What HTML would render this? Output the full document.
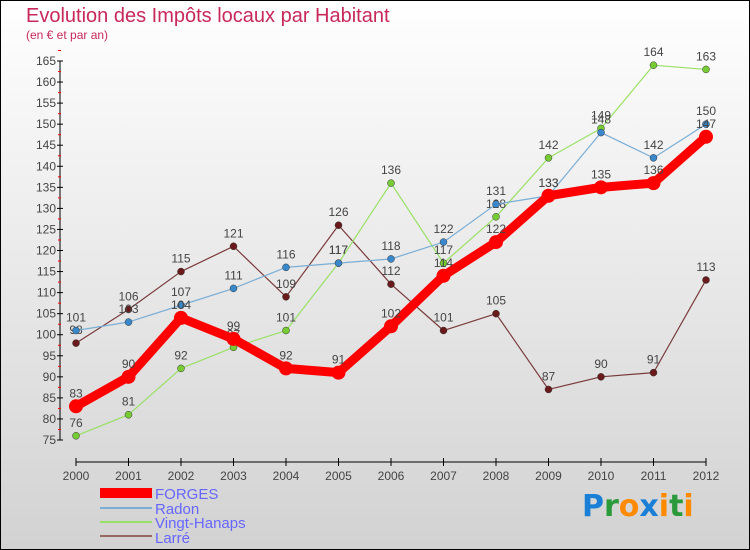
<!DOCTYPE html>
<html><head><meta charset="utf-8"><style>
html,body{margin:0;padding:0}
body{width:750px;height:550px;overflow:hidden;font-family:"Liberation Sans",sans-serif}
svg{display:block}
</style></head><body>
<svg id="chart" width="750" height="550" xmlns="http://www.w3.org/2000/svg">
<defs><linearGradient id="bg" x1="0" y1="0" x2="0" y2="1"><stop offset="0" stop-color="#ffffff"/><stop offset="1" stop-color="#d2d2d2"/></linearGradient></defs>
<rect x="0.5" y="0.5" width="749" height="549" fill="url(#bg)" stroke="#000"/>
<text x="26" y="22" font-size="20" fill="#c8285a">Evolution des Impôts locaux par Habitant</text>
<text x="26" y="39" font-size="12" fill="#c8285a">(en € et par an)</text>
<g id="axes"></g>
<g id="series"></g>
<g>
<rect x="100" y="488" width="52" height="10" fill="#f00"/>
<text x="155" y="499" font-size="15" fill="#6666ff">FORGES</text>
<rect x="100" y="507" width="52" height="2" fill="#7aaed6"/>
<text x="155" y="514" font-size="15" fill="#6666ff">Radon</text>
<rect x="100" y="521" width="52" height="2" fill="#99e066"/>
<text x="155" y="528" font-size="15" fill="#6666ff">Vingt-Hanaps</text>
<rect x="100" y="535" width="52" height="2" fill="#996666"/>
<text x="155" y="543" font-size="15" fill="#6666ff">Larré</text>
</g>
<g font-size="30" font-weight="bold" font-family="'DejaVu Sans',sans-serif">
<text x="582" y="516"><tspan fill="#1a7fd6">P</tspan><tspan fill="#2a9a3a">r</tspan><tspan fill="#ff8a00">o</tspan><tspan fill="#1a7fd6">x</tspan><tspan fill="#ff8a00">i</tspan><tspan fill="#2a9a3a">t</tspan><tspan fill="#ff8a00">i</tspan></text>
</g>
</svg>
<script>
const years=["2000","2001","2002","2003","2004","2005","2006","2007","2008","2009","2010","2011","2012"];
const forges=[83,90,104,99,92,91,102,114,122,133,135,136,147];
const radon=[101,103,107,111,116,117,118,122,131,133,148,142,150];
const vingt=[76,81,92,97,101,117,136,117,128,142,149,164,163];
const larre=[98,106,115,121,109,126,112,101,105,87,90,91,113];
const yTicks=[75,80,85,90,95,100,105,110,115,120,125,130,135,140,145,150,155,160,165];
const NS="http://www.w3.org/2000/svg";
const x0=76,x1=706,yMin=75,yMax=165,yTop=61,yBot=440;
function xs(i){return x0+(x1-x0)*i/(years.length-1);}
function ys(v){return yBot-(v-yMin)/(yMax-yMin)*(yBot-yTop);}
function mk(tag,attrs,parent){const e=document.createElementNS(NS,tag);for(const k in attrs)e.setAttribute(k,attrs[k]);parent.appendChild(e);return e;}
const ax=document.getElementById('axes');
let l=mk('line',{x1:60,y1:yTop,x2:60,y2:yBot,stroke:'#000'},ax);


l=mk('line',{x1:x0,y1:462,x2:x1,y2:462,stroke:'#000'},ax);


yTicks.forEach(v=>{
  const y=ys(v);
  mk('line',{x1:57,y1:y,x2:63,y2:y,stroke:'#000'},ax);
  mk('line',{x1:58,y1:y-10.5,x2:61,y2:y-10.5,stroke:'#f00'},ax);
  const t=mk('text',{x:56,y:y+4,'font-size':12,fill:'#444','text-anchor':'end'},ax);
  t.textContent=v;
  
  
});
years.forEach((yr,i)=>{
  const x=xs(i);
  mk('line',{x1:x,y1:458,x2:x,y2:466,stroke:'#000'},ax);
  const t=mk('text',{x:x,y:480,'font-size':12,fill:'#444','text-anchor':'middle'},ax);
  t.textContent=yr;
  
  
});
const sg=document.getElementById('series');
function draw(data,name,color,dot,w,r,labelColor){
  const g=mk('g',{},sg);
  
  
  const pts=data.map((v,i)=>xs(i)+','+ys(v)).join(' ');
  const p=mk('polyline',{points:pts,fill:'none',stroke:color,'stroke-width':w,'stroke-linejoin':'round'},g);
  
  
  data.forEach((v,i)=>{
    const c=mk('circle',{cx:xs(i),cy:ys(v),r:r,fill:dot,stroke:'#333','stroke-width':r>5?0:0.5},g);
    
    
    const t=mk('text',{x:xs(i),y:ys(v)-9,'font-size':12,fill:'#444','text-anchor':'middle'},g);
    t.textContent=v;
    
    
  });
}
draw(larre,'larre','#7a3a3a','#6a1a1a',1.2,3.5);
draw(vingt,'vingt-hanaps','#99e066','#77cc33',1.2,3.5);
draw(radon,'radon','#7aaed6','#3a88cc',1.2,3.5);
draw(forges,'forges','#f00','#f00',9,7);
</script>
</body></html>
